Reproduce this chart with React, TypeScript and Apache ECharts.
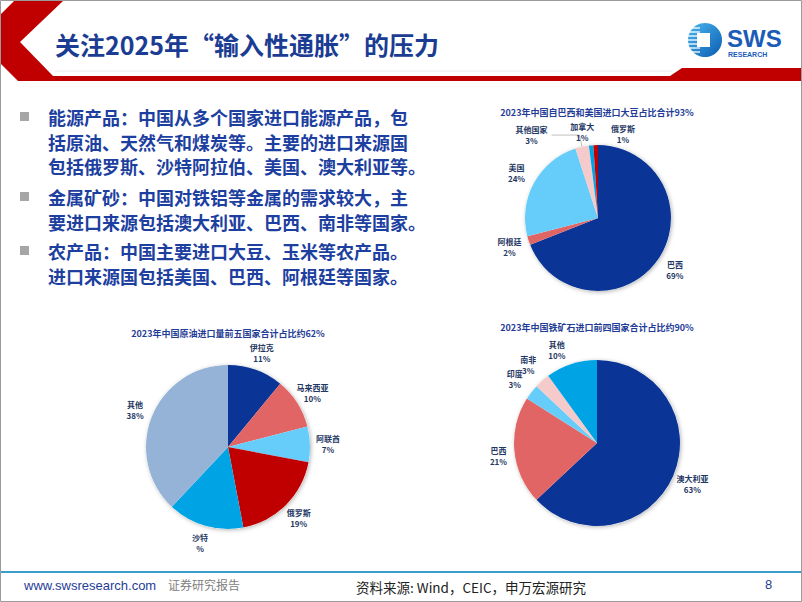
import React, { useEffect, useRef } from 'react';
import * as echarts from 'echarts';

// ---------- data ----------
const slideTitle = '关注2025年“输入性通胀”的压力';

const bulletParagraphs = [
  ['能源产品：中国从多个国家进口能源产品，包', '括原油、天然气和煤炭等。主要的进口来源国', '包括俄罗斯、沙特阿拉伯、美国、澳大利亚等。'],
  ['金属矿砂：中国对铁铝等金属的需求较大，主', '要进口来源包括澳大利亚、巴西、南非等国家。'],
  ['农产品：中国主要进口大豆、玉米等农产品。', '进口来源国包括美国、巴西、阿根廷等国家。'],
];

const soyTitle = '2023年中国自巴西和美国进口大豆占比合计93%';
const soyNames = ['巴西', '阿根廷', '美国', '其他国家', '加拿大', '俄罗斯'];
const soyValues = [69, 2, 24, 3, 1, 1];
const soyPctText = ['69%', '2%', '24%', '3%', '1%', '1%'];

const oilTitle = '2023年中国原油进口量前五国家合计占比约62%';
const oilNames = ['伊拉克', '马来西亚', '阿联酋', '俄罗斯', '沙特', '其他'];
const oilValues = [11, 10, 7, 19, 15, 38];
const oilPctText = ['11%', '10%', '7%', '19%', '%', '38%'];

const ironTitle = '2023年中国铁矿石进口前四国家合计占比约90%';
const ironNames = ['澳大利亚', '巴西', '印度', '南非', '其他'];
const ironValues = [63, 21, 3, 3, 10];
const ironPctText = ['63%', '21%', '3%', '3%', '10%'];

const footerUrl = 'www.swsresearch.com';
const footerTag = '证券研究报告';
const footerSource = '资料来源: Wind，CEIC，申万宏源研究';
const pageNumber = '8';

// ---------- styles ----------
const CJK = '"Noto Sans CJK SC", "Noto Sans", sans-serif';
const LATIN = '"Liberation Sans", Arial, sans-serif';
const LABEL_NAVY = '#1f3864';

const C_DB = '#0a3597';
const C_SAL = '#e26565';
const C_LB = '#66cdfb';
const C_PK = '#f4caca';
const C_BL = '#00a4e4';
const C_DR = '#c00000';
const C_GB = '#95b3d7';

const soyColors = [C_DB, C_SAL, C_LB, C_PK, C_BL, C_DR];
const oilColors = [C_DB, C_SAL, C_LB, C_DR, C_BL, C_GB];
const ironColors = [C_DB, C_SAL, C_LB, C_PK, C_BL];

const labelFont = {
  fontSize: 8,
  fontWeight: 'bold' as const,
  color: LABEL_NAVY,
  fontFamily: CJK,
  lineHeight: 11,
};

type LineCfg = Record<string, [number, number]>;
type OffCfg = Record<string, [number, number]>;

function pieSeries(
  names: string[],
  values: number[],
  pct: string[],
  colors: string[],
  center: [number, number],
  r: number,
  labelR: number,
  lineItems: LineCfg,
  offsets: OffCfg
) {
  const bg = {
    type: 'pie',
    center,
    radius: r,
    silent: true,
    label: { show: false },
    labelLine: { show: false },
    data: [
      {
        value: 1,
        itemStyle: {
          color: '#ffffff',
          shadowBlur: 4,
          shadowColor: 'rgba(0,0,0,0.3)',
          shadowOffsetX: 1,
          shadowOffsetY: 1,
        },
      },
    ],
  };
  const main = {
    type: 'pie',
    center,
    radius: r,
    startAngle: 90,
    clockwise: true,
    silent: true,
    avoidLabelOverlap: false,
    labelLayout: { hideOverlap: false },
    label: { show: false },
    labelLine: { show: false },
    itemStyle: { borderWidth: 0 },
    data: names.map((n, i) => {
      const item: any = { name: n, value: values[i], itemStyle: { color: colors[i] } };
      const ln = lineItems[n];
      if (ln) {
        item.label = {
          show: true,
          position: 'outside',
          distanceToLabelLine: 3,
          formatter: `{a|${n}}\n{a|${pct[i]}}`,
          rich: { a: { ...labelFont, width: 34, align: 'center' } },
        };
        item.labelLine = {
          show: true,
          length: ln[0],
          length2: ln[1],
          lineStyle: { color: '#bfbfbf', width: 1 },
        };
      }
      return item;
    }),
  };
  const lab = {
    type: 'pie',
    center,
    radius: [labelR - 3, labelR + 3],
    startAngle: 90,
    clockwise: true,
    silent: true,
    avoidLabelOverlap: false,
    labelLayout: { hideOverlap: false },
    itemStyle: { color: 'rgba(0,0,0,0)', borderWidth: 0 },
    labelLine: { show: false },
    label: { show: true, position: 'inside', ...labelFont },
    data: names.map((n, i) => {
      const item: any = { name: n, value: values[i] };
      if (lineItems[n]) {
        item.label = { show: false };
      } else {
        item.label = {
          show: true,
          position: 'inside',
          formatter: `${n}\n${pct[i]}`,
          ...labelFont,
          offset: offsets[n] || [0, 0],
        };
      }
      return item;
    }),
  };
  return [bg, main, lab];
}

function txt(x: number, y: number, text: string, font: string, fill: string, align = 'left', vAlign = 'middle') {
  return {
    type: 'text',
    x,
    y,
    silent: true,
    style: {
      text,
      font,
      fill,
      textAlign: align,
      align,
      textVerticalAlign: vAlign,
      verticalAlign: vAlign,
    },
  };
}

function buildGraphics() {
  const g: any[] = [];
  // slide frame
  g.push({
    type: 'rect',
    silent: true,
    shape: { x: 0.5, y: 0.5, width: 801, height: 601 },
    style: { fill: '#ffffff', stroke: '#9a9a9a', lineWidth: 1 },
    z: -10,
  });
  // faint shadow line above the thin header bar
  g.push({
    type: 'line',
    silent: true,
    shape: { x1: 55, y1: 71, x2: 672, y2: 71 },
    style: { stroke: '#ececec', lineWidth: 1 },
  });
  // header red chevron + bar
  g.push({
    type: 'polygon',
    silent: true,
    shape: {
      points: [
        [14, 1], [63, 1], [20, 42], [53, 76], [670, 76], [682, 68],
        [801, 68], [801, 81], [18, 81], [1, 64], [1, 14],
      ],
    },
    style: { fill: '#c00000' },
  });
  // slide title
  g.push(txt(55, 44, slideTitle, `bold 25px ${CJK}`, '#1b3c93'));

  // logo
  g.push({
    type: 'circle',
    silent: true,
    shape: { cx: 705, cy: 40, r: 17 },
    style: {
      fill: new echarts.graphic.LinearGradient(0, 0, 1, 1, [
        { offset: 0, color: '#4ab8f0' },
        { offset: 1, color: '#0b5bb0' },
      ]),
    },
  });
  [28, 32, 36, 40, 44, 48, 52].forEach((y) => {
    g.push({
      type: 'line',
      silent: true,
      shape: { x1: 687, y1: y, x2: 700, y2: y },
      style: { stroke: '#ffffff', lineWidth: 1.3 },
    });
  });
  g.push({
    type: 'rect',
    silent: true,
    shape: { x: 697, y: 33, width: 13, height: 14 },
    style: { fill: '#ffffff' },
  });
  g.push(txt(727, 38, 'SWS', `bold 24px ${LATIN}`, '#1a5cb8'));
  g.push(txt(728, 54, 'RESEARCH', `bold 7px ${LATIN}`, '#1a5cb8'));

  // bullets
  const paraY = [117, 197, 251];
  const lineGap = 24.5;
  bulletParagraphs.forEach((lines, p) => {
    g.push({
      type: 'rect',
      silent: true,
      shape: { x: 20, y: paraY[p] - 5, width: 9, height: 9 },
      style: { fill: '#a6a6a6' },
    });
    lines.forEach((line, i) => {
      g.push(txt(48, paraY[p] + i * lineGap, line, `bold 18px ${CJK}`, '#1d3f9f'));
    });
  });

  // footer
  g.push({
    type: 'line',
    silent: true,
    shape: { x1: 1, y1: 572, x2: 801, y2: 572 },
    style: { stroke: '#3aa0c8', lineWidth: 2 },
  });
  g.push(txt(24, 585, footerUrl, `13px ${LATIN}`, '#1f3c96'));
  g.push(txt(168, 584, footerTag, `12px ${CJK}`, '#808080'));
  g.push(txt(356, 587, footerSource, `13.5px ${CJK}`, '#222222'));
  g.push(txt(765, 584, pageNumber, `13px ${LATIN}`, '#1f3c96'));
  return g;
}

function chartTitle(text: string, cx: number, top: number) {
  return {
    text,
    left: cx,
    top,
    textAlign: 'center',
    padding: 0,
    textStyle: { fontSize: 9, fontWeight: 'bold', color: '#1f3c96', fontFamily: CJK },
  };
}

export default function App() {
  const ref = useRef<HTMLDivElement>(null);
  useEffect(() => {
    document.body.style.margin = '0';
    document.body.style.overflow = 'hidden';
    const chart = echarts.init(ref.current!, null, { renderer: 'svg' });
    const option: any = {
      animation: false,
      backgroundColor: '#ffffff',
      title: [
        chartTitle(soyTitle, 597, 108),
        chartTitle(oilTitle, 228, 329),
        chartTitle(ironTitle, 597, 323),
      ],
      graphic: { elements: buildGraphics() },
      series: [
        ...pieSeries(soyNames, soyValues, soyPctText, soyColors, [598, 218], 73, 90,
          { '其他国家': [12, 28] }, { '加拿大': [-7, 7], '俄罗斯': [28, 9] }),
        ...pieSeries(oilNames, oilValues, oilPctText, oilColors, [228, 447], 82, 97, {}, {}),
        ...pieSeries(ironNames, ironValues, ironPctText, ironColors, [597, 443], 83, 101, {},
          { '其他': [-8, 6], '巴西': [5, 3] }),
      ],
    };
    chart.setOption(option);
    return () => chart.dispose();
  }, []);
  return <div ref={ref} style={{ width: 802, height: 602, background: '#ffffff' }} />;
}
